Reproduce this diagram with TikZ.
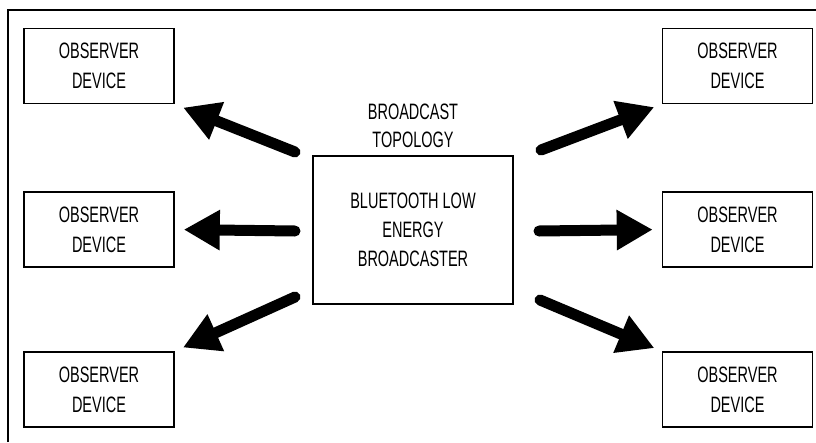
\documentclass[tikz,border=0pt]{standalone}
\usepackage{fontspec}
\setmainfont[FakeStretch=0.65]{Liberation Sans}
\usetikzlibrary{arrows.meta}
\tikzstyle{obs}=[rectangle,draw=black,line width=1.6pt,minimum width=150pt,
  minimum height=75pt,align=center,font=\fontsize{22.3}{30}\selectfont,inner sep=0pt]
\tikzstyle{bcbox}=[rectangle,draw=black,line width=1.6pt,minimum width=200pt,
  minimum height=148pt,align=center,font=\fontsize{22.3}{29}\selectfont,inner sep=0pt]
\tikzstyle{lbl}=[align=center,font=\fontsize{22.3}{28}\selectfont,inner sep=0pt]
\tikzstyle{fat}=[line width=11pt,line cap=round,
  -{Triangle[length=36pt,width=38pt]}]

\begin{document}
\begin{tikzpicture}[x=1pt,y=-1pt]
    \useasboundingbox (0,0) rectangle (816,442);
    \draw[line width=2.6pt] (8,442) -- (8,10) -- (816,10);
    \node [style=obs] (ob1) at (99,66) {OBSERVER\\DEVICE};
    \node [style=obs] (ob2) at (99,229.5) {OBSERVER\\DEVICE};
    \node [style=obs] (ob3) at (99,389.5) {OBSERVER\\DEVICE};
    \node [style=obs] (ob4) at (737.5,66) {OBSERVER\\DEVICE};
    \node [style=obs] (ob5) at (737.5,229.5) {OBSERVER\\DEVICE};
    \node [style=obs] (ob6) at (737.5,389.5) {OBSERVER\\DEVICE};
    \node [style=bcbox] (bc) at (413,230) {BLUETOOTH LOW\\ENERGY\\BROADCASTER};
    \node [style=lbl] (topo) at (413,126) {BROADCAST\\TOPOLOGY};
    \coordinate (t1) at (295,152);
    \coordinate (t2) at (295,231);
    \coordinate (t3) at (295,297);
    \coordinate (t4) at (541,150);
    \coordinate (t5) at (539,231);
    \coordinate (t6) at (540,300);
    \draw [style=fat,shorten >=9pt] (t1) to (ob1.south east);
    \draw [style=fat,shorten >=9pt] (t2) to (ob2.east);
    \draw [style=fat,shorten >=9pt] (t3) to (ob3.north east);
    \draw [style=fat,shorten >=8pt] (t4) to (ob4.south west);
    \draw [style=fat,shorten >=9pt] (t5) to (ob5.west);
    \draw [style=fat,shorten >=8pt] (t6) to (ob6.north west);
  \end{tikzpicture}
\end{document}
